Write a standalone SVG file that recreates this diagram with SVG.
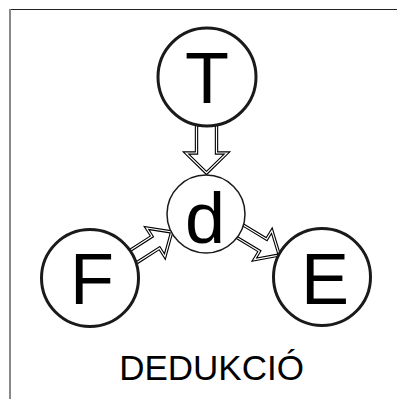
<svg xmlns="http://www.w3.org/2000/svg" width="397" height="399" viewBox="0 0 397 399">
  <style>
    .node-big { fill: #fff; stroke: #1a1a1a; stroke-width: 3; }
    .node-small { fill: #fff; stroke: #1a1a1a; stroke-width: 1.5; }
    .label { font-family: "Liberation Sans", Arial, sans-serif; fill: #000; text-anchor: middle; }
    .arrow-outer { fill: #fff; stroke: #000; stroke-width: 3.4; stroke-linejoin: miter; }
    .arrow-inner { fill: none; stroke: #fff; stroke-width: 1.2; stroke-linejoin: miter; }
  </style>
  <defs>
    <!-- hollow block arrow pointing along +x, tip at origin -->
    <path id="arrowBig" d="M -48,-10 L -20,-10 L -20,-20.5 L 0,0 L -20,20.5 L -20,10 L -48,10 Z"/>
    <path id="arrowSmall" d="M -47,-7 L -19,-7 L -19,-17 L 0,0 L -19,17 L -19,7 L -47,7 Z"/>
  </defs>

  <rect width="397" height="399" fill="#fff"/>

  <!-- frame -->
  <line x1="9" y1="9.5" x2="397" y2="9.5" stroke="#222" stroke-width="1"/>
  <line x1="10" y1="9" x2="10" y2="399" stroke="#888" stroke-width="2"/>

  <g id="connectors">
    <g transform="translate(206.5,173) rotate(90)">
      <use href="#arrowBig" class="arrow-outer"/>
      <use href="#arrowBig" class="arrow-inner"/>
    </g>
    <g transform="translate(171.7,232) rotate(-32.7)">
      <use href="#arrowSmall" class="arrow-outer"/>
      <use href="#arrowSmall" class="arrow-inner"/>
    </g>
    <g transform="translate(279.3,255) rotate(31.2)">
      <use href="#arrowSmall" class="arrow-outer"/>
      <use href="#arrowSmall" class="arrow-inner"/>
    </g>
  </g>

  <g id="node-T">
    <circle cx="207" cy="77" r="49" class="node-big"/>
    <text x="207" y="103" font-size="72" class="label">T</text>
  </g>
  <g id="node-d">
    <circle cx="206" cy="214" r="39" class="node-small"/>
    <text x="205" y="243" font-size="72" class="label">d</text>
  </g>
  <g id="node-F">
    <circle cx="90" cy="278" r="48.5" class="node-big"/>
    <text x="92" y="304" font-size="72" class="label">F</text>
  </g>
  <g id="node-E">
    <circle cx="322" cy="277" r="48.5" class="node-big"/>
    <text x="325" y="304" font-size="72" class="label">E</text>
  </g>

  <text x="211.5" y="380" font-size="35" class="label">DEDUKCIÓ</text>
</svg>
